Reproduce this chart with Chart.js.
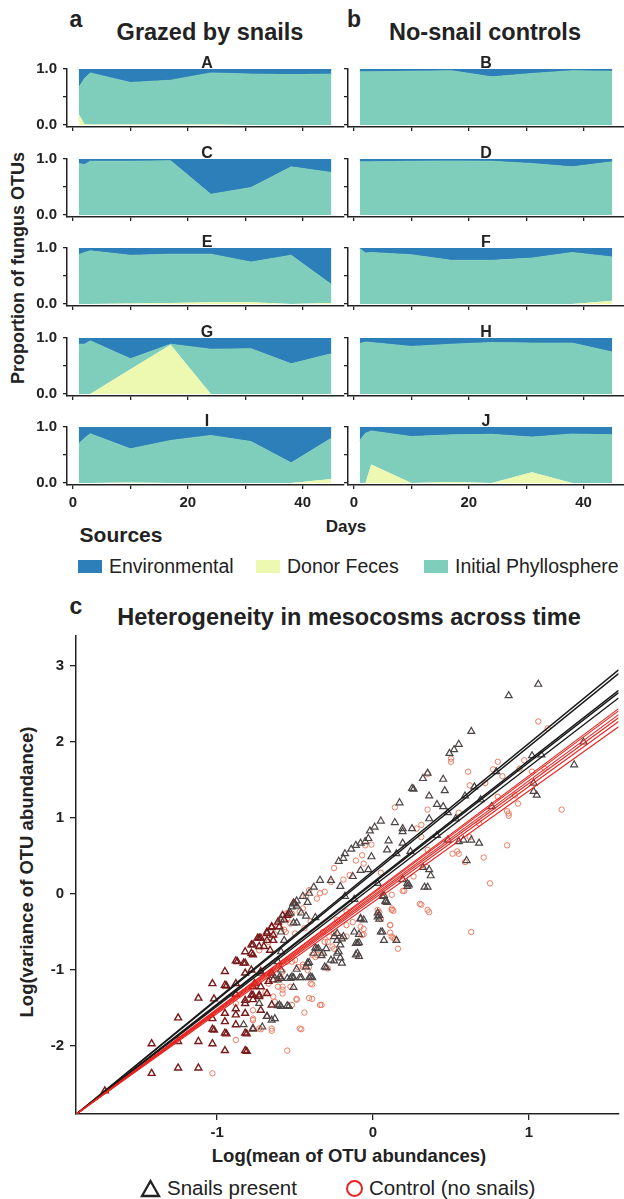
<!DOCTYPE html>
<html lang="en">
<head>
<meta charset="UTF-8">
<title>Fungus OTU sources and heterogeneity</title>
<script src="https://cdn.jsdelivr.net/npm/chart.js"></script>
<style>
  body { margin: 0; background: #fff; }
  #page { position: relative; width: 624px; height: 1199px; overflow: hidden;
          font-family: "Liberation Sans", Arial, Helvetica, sans-serif; color: #222; background: #fff; }
  canvas { position: absolute; }
  .t { position: absolute; transform: translate(-50%, -50%); white-space: nowrap; font-weight: bold; }
  .rot { transform: translate(-50%, -50%) rotate(-90deg); }
  .leg { position: absolute; white-space: nowrap; font-size: 19.5px; display: flex; align-items: center; }
  .sw { display: inline-block; width: 24px; height: 13px; margin-right: 7px; }
</style>
</head>
<body>
<div id="page">
  <div class="t" style="left:76px; top:19px; font-size:23px;">a</div>
  <div class="t" style="left:210px; top:32px; font-size:23.5px;">Grazed by snails</div>
  <div class="t" style="left:354px; top:19px; font-size:23px;">b</div>
  <div class="t" style="left:485px; top:32px; font-size:23.5px;">No-snail controls</div>
  <div class="t rot" style="left:18px; top:268px; font-size:18px;">Proportion of fungus OTUs</div>
  <div class="t" style="left:346px; top:527px; font-size:17px;">Days</div>
  <div class="t" style="left:121px; top:535px; font-size:21px;">Sources</div>
  <div class="leg" style="left:78px; top:555px;"><span class="sw" style="background:#2c7fb8"></span>Environmental</div>
  <div class="leg" style="left:256px; top:555px;"><span class="sw" style="background:#edf8b1"></span>Donor Feces</div>
  <div class="leg" style="left:424px; top:555px;"><span class="sw" style="background:#7fcdbb"></span>Initial Phyllosphere</div>

  <div class="t" style="left:76px; top:606px; font-size:23px;">c</div>
  <div class="t" style="left:349px; top:617px; font-size:23.5px;">Heterogeneity in mesocosms across time</div>
  <div class="t rot" style="left:27px; top:872px; font-size:18.5px;">Log(variance of OTU abundance)</div>
  <div class="t" style="left:349px; top:1156px; font-size:18.5px;">Log(mean of OTU abundances)</div>
  <div class="leg" style="left:140px; top:1176px; font-size:20.5px;">
    <svg width="21" height="19" style="margin-right:6px"><polygon points="10.5,2 19,17 2,17" fill="none" stroke="#222" stroke-width="2.3"/></svg>Snails present</div>
  <div class="leg" style="left:345px; top:1176px; font-size:20.5px;">
    <svg width="19" height="19" style="margin-right:5px"><circle cx="9.5" cy="9.5" r="7.5" fill="none" stroke="#e8231e" stroke-width="2"/></svg>Control (no snails)</div>
</div>

<script>
// ---- panels a/b: proportion of fungus OTUs by source ----
const days = [1, 2, 3, 10, 17, 24, 31, 38, 45];
const dayTicks = [0, 10, 20, 30, 40];
const dayLabels = ['0', '', '20', '', '40'];
const propTicks = [0, 0.5, 1];

const envA    = [0.33, 0.17, 0.07, 0.24, 0.20, 0.07, 0.09, 0.10, 0.09];
const fecesA  = [0.19, 0.02, 0.01, 0.01, 0.01, 0.01, 0.00, 0.00, 0.00];
const phylloA = [0.48, 0.81, 0.92, 0.75, 0.79, 0.92, 0.91, 0.90, 0.91];

const envB    = [0.05, 0.05, 0.05, 0.04, 0.03, 0.14, 0.08, 0.03, 0.04];
const fecesB  = [0, 0, 0, 0, 0, 0, 0, 0, 0];
const phylloB = [0.95, 0.95, 0.95, 0.96, 0.97, 0.86, 0.92, 0.97, 0.96];

const envC    = [0.08, 0.10, 0.04, 0.04, 0.03, 0.63, 0.51, 0.14, 0.24];
const fecesC  = [0, 0, 0, 0, 0, 0, 0, 0, 0];
const phylloC = [0.92, 0.90, 0.96, 0.96, 0.97, 0.37, 0.49, 0.86, 0.76];

const envD    = [0.05, 0.05, 0.05, 0.04, 0.035, 0.04, 0.08, 0.14, 0.05];
const fecesD  = [0, 0, 0, 0, 0, 0, 0, 0, 0];
const phylloD = [0.95, 0.95, 0.95, 0.96, 0.965, 0.96, 0.92, 0.86, 0.95];

const envE    = [0.12, 0.08, 0.05, 0.13, 0.11, 0.11, 0.25, 0.13, 0.65];
const fecesE  = [0, 0, 0, 0.01, 0.02, 0.03, 0.03, 0, 0.02];
const phylloE = [0.88, 0.92, 0.95, 0.86, 0.87, 0.86, 0.72, 0.87, 0.33];

const envF    = [0.01, 0.09, 0.08, 0.12, 0.22, 0.22, 0.18, 0.08, 0.16];
const fecesF  = [0, 0, 0, 0, 0, 0, 0, 0, 0.06];
const phylloF = [0.99, 0.91, 0.92, 0.88, 0.78, 0.78, 0.82, 0.92, 0.78];

const envG    = [0.11, 0.11, 0.05, 0.37, 0.11, 0.20, 0.19, 0.46, 0.28];
const fecesG  = [0, 0, 0, 0.44, 0.88, 0, 0, 0, 0];
const phylloG = [0.89, 0.89, 0.95, 0.19, 0.01, 0.80, 0.81, 0.54, 0.72];

const envH    = [0.10, 0.07, 0.08, 0.15, 0.11, 0.08, 0.09, 0.09, 0.25];
const fecesH  = [0, 0, 0, 0, 0, 0, 0, 0, 0];
const phylloH = [0.90, 0.93, 0.92, 0.85, 0.89, 0.92, 0.91, 0.91, 0.75];

const envI    = [0.30, 0.20, 0.12, 0.39, 0.24, 0.15, 0.26, 0.64, 0.20];
const fecesI  = [0, 0, 0, 0.01, 0, 0, 0, 0, 0.07];
const phylloI = [0.70, 0.80, 0.88, 0.60, 0.76, 0.85, 0.74, 0.36, 0.73];

const envJ    = [0.24, 0.11, 0.07, 0.17, 0.14, 0.13, 0.18, 0.125, 0.14];
const fecesJ  = [0, 0, 0.33, 0, 0.02, 0, 0.19, 0, 0];
const phylloJ = [0.76, 0.89, 0.60, 0.83, 0.84, 0.87, 0.63, 0.875, 0.86];

// ---- panel c: log variance vs log mean ----
const xTicksC = [-1, 0, 1];
const yTicksC = [-2, -1, 0, 1, 2, 3];

const snailsEarly = [
  [-1.72,-2.59],[-1.42,-2.36],[-1.25,-2.29],[-1.12,-2.29],[-1.42,-1.97],[-1.25,-1.94],[-1.12,-1.94],
  [-1.03,-1.97],[-0.95,-2.06],[-0.82,-2.06],[-1.25,-1.63],[-1.12,-1.37],[-1.03,-1.18],[-0.95,-1.02],
  [-0.88,-0.88],[-0.82,-0.76],[-0.77,-0.67],[-0.73,-0.58],[-0.68,-0.50],[-0.65,-0.44],[-0.58,-0.28],
  [-0.51,-0.12],[-1.03,-1.64],[-1.03,-1.78],[-0.95,-1.83],[-0.95,-1.68],[-0.95,-1.57],[-0.88,-1.51],
  [-0.88,-1.59],[-0.88,-1.72],[-0.82,-1.83],[-0.82,-1.57],[-0.82,-1.44],[-0.82,-1.40],[-0.88,-1.18],
  [-0.88,-1.32],[-0.95,-1.20],[-0.82,-1.04],[-0.82,-0.91],[-0.77,-0.80],[-0.73,-0.69],[-0.68,-0.61],
  [-0.64,-0.54],[-0.60,-0.43],[-0.57,-0.34],[-0.54,-0.26],[-0.77,-1.22],[-0.77,-1.33],[-0.73,-1.35],
  [-0.64,-1.13],[-0.59,-1.11],[-1.02,-1.38],[-0.94,-1.21],[-0.94,-1.84],[-0.81,-2.07],[-0.81,-1.84],
  [-0.87,-0.89],[-1.02,-1.79],[-0.83,-0.91],[-0.78,-0.78],[-0.72,-0.58],[-0.61,-0.37],[-0.55,-0.28],
  [-0.65,-0.43],[-0.68,-0.52],[-0.74,-0.58],[-0.64,-0.61],[-0.78,-0.67],[-0.70,-0.69],[-0.66,-0.74],
  [-0.78,-1.00],[-0.72,-1.02],[-0.65,-1.04],[-0.76,-1.18],[-0.72,-1.22],[-0.67,-1.15],[-0.78,-1.33],
  [-0.73,-1.33],[-0.68,-1.31],[-0.77,-1.39],[-0.65,-1.46],[-0.72,-1.53],[-0.68,-1.61],[-0.77,-1.77]
];
const snailsLate = [
  [1.06,2.76],[0.87,2.61],[0.63,2.14],[0.55,1.97],[0.52,1.90],[0.49,1.85],[1.35,2.00],[1.29,1.70],
  [1.02,1.82],[1.08,1.83],[1.03,1.46],[1.03,1.35],[1.05,1.30],[0.79,1.61],[0.45,1.51],[0.32,1.52],
  [0.35,1.59],[0.25,1.39],[0.26,1.38],[0.36,1.29],[0.46,1.36],[0.41,1.18],[0.45,1.15],[0.48,1.07],
  [0.17,1.20],[0.36,0.99],[0.59,1.29],[0.65,1.41],[0.69,1.24],[0.76,1.15],[0.53,0.99],[0.05,0.96],
  [0.14,0.94],[0.19,0.82],[0.19,0.86],[0.25,0.86],[0.10,0.70],[0.19,0.67],[0.09,0.58],[0.15,0.53],
  [0.24,0.56],[0.41,0.77],[0.48,0.71],[0.55,0.69],[0.58,0.71],[0.63,0.71],[0.68,0.67],[0.60,0.44],
  [0.32,0.35],[0.36,0.32],[0.37,0.24],[0.33,0.09],[0.22,0.10],[0.22,0.14],[0.19,0.19],[0.06,-0.03],
  [0.08,-0.09],[0.03,0.14],[0.01,0.88],[-0.02,0.83],[-0.03,0.73],[-0.05,0.69],[-0.08,0.67],[-0.11,0.64],
  [-0.14,0.59],[-0.18,0.53],[-0.19,0.47],[-0.22,0.43],[-0.01,0.49],[-0.08,0.31],[-0.03,0.32],[-0.13,0.23],
  [-0.27,0.18],[-0.21,0.10],[-0.18,-0.03],[-0.12,-0.07],[-0.34,0.18],[-0.38,0.09],[-0.41,0.01],[-0.45,-0.03],
  [-0.49,-0.09],[-0.50,-0.13],[-0.52,-0.17],[-0.51,-0.38],[-0.43,-0.29],[-0.37,-0.31],[-0.08,-0.33],
  [0.03,-0.25],[0.03,-0.30],[0.05,-0.50],[-0.10,-0.65],[-0.10,-0.78],[-0.12,-0.50],[-0.25,-0.56],
  [-0.23,-0.61],[-0.21,-0.67],[-0.23,-0.78],[-0.27,-0.87],[-0.30,-0.72],[-0.36,-0.72],[-0.38,-0.78],
  [-0.42,-0.91],[-0.43,-0.96],[-0.49,-0.99],[-0.59,-1.00],[-0.64,-1.07],[-0.40,-1.09],[-0.31,-0.96],
  [0.07,-0.61],[0.15,-0.61],[0.35,0.09],[0.23,0.12],[0.07,-0.02],[0.09,-0.11],[0.04,-0.33],[-0.06,-0.34],
  [-0.09,-0.53],[-0.09,-0.64],[-0.09,-0.82],[-0.20,-0.59],[-0.23,-0.52],[-0.21,-0.84],[-0.25,-0.88],
  [-0.20,-0.91],[-0.30,-0.97],[-0.35,-0.72],[-0.33,-0.81],[-0.39,-1.10],[-0.41,-0.90],[-0.46,-1.10],
  [-0.51,-1.10],[-0.51,-1.23],[-0.54,-1.48],[-0.59,-1.48],[-0.63,-1.64],[-0.71,-1.75],[-0.72,-1.04],
  [-0.73,-1.44],[-0.68,-1.61],[-0.65,-1.66],[-0.77,-1.78],[-0.83,-1.72],[-0.60,-1.46],[-0.55,-1.47],
  [-0.52,-1.09],[-0.49,-0.16],[-0.42,-0.11],[-0.53,-0.25],[-0.46,-0.25],[-0.59,-0.34],[-0.49,-0.38],
  [-0.59,-0.50],[-0.57,-0.61],[-0.59,-0.76],[-0.61,-0.89],[-0.60,-1.09],[-0.55,-1.11],[-0.47,-1.10],
  [-0.42,-0.91],[-0.41,-1.10],[-0.37,-0.71],[-0.32,-0.78],[-0.22,-0.76],[-0.19,-0.56],[-0.11,-0.65],
  [-0.11,-0.80],[-0.08,-0.32],[0.04,-0.28],[0.06,-0.50],[0.08,-0.10],[-0.61,-1.13],[-0.61,-1.47],
  [-0.53,-1.11]
];
const controls = [
  [1.06,2.27],[1.12,2.18],[1.21,1.11],[0.86,0.64],[0.75,0.14],[0.50,1.74],[0.50,1.78],[0.61,1.61],
  [0.62,1.43],[0.72,1.46],[0.77,1.64],[0.80,1.74],[0.83,1.55],[0.94,1.65],[0.97,1.76],[1.02,1.61],
  [1.10,1.65],[0.91,1.30],[0.93,1.19],[0.86,1.09],[0.87,1.03],[0.87,1.06],[0.35,1.58],[0.35,1.11],
  [0.14,1.14],[0.55,1.07],[0.68,0.93],[0.62,0.75],[0.51,0.53],[0.54,0.56],[0.55,0.53],[0.71,0.48],
  [0.59,0.42],[0.31,0.91],[0.28,0.86],[0.31,0.75],[0.35,0.58],[0.34,0.36],[0.26,0.23],[0.19,0.04],
  [0.12,-0.01],[0.30,-0.13],[0.35,-0.21],[0.12,-0.19],[0.05,0.28],[0.80,1.28],
  [-0.01,0.65],[-0.05,0.64],[-0.07,0.51],[-0.06,0.40],[-0.11,0.44],[-0.15,0.25],[-0.19,0.19],[-0.25,0.34],
  [-0.31,0.03],[-0.36,-0.06],[-0.34,0.01],[-0.41,0.05],[-0.43,-0.03],[-0.45,-0.19],[-0.47,-0.23],
  [-0.52,-0.26],[-0.55,-0.32],[-0.60,-0.37],[-0.61,-0.43],[-0.57,-0.47],[-0.63,-0.53],[-0.67,-0.63],
  [-0.73,-0.74],[-0.17,-0.41],[-0.13,-0.37],[-0.08,-0.43],[-0.07,-0.54],[-0.21,-0.56],[-0.17,-0.56],
  [-0.31,-0.63],[-0.28,-0.56],[-0.33,-0.80],[-0.37,-0.83],[-0.52,-0.89],[-0.45,-0.93],[-0.42,-1.00],
  [-0.29,-0.98],[0.11,-0.41],[0.11,-0.51],[0.12,-0.56],[0.16,-0.72],[0.03,-0.21],
  [-1.03,-2.36],[-0.88,-1.92],[-0.73,-1.77],[-0.65,-1.80],[-0.55,-2.06],[-0.88,-1.44],[-0.77,-1.53],
  [-0.77,-1.66],[-0.64,-1.35],[-0.58,-1.31],[-0.58,-1.22],[-0.52,-1.46],[-0.58,-1.02],[-0.55,-0.89],
  [-0.67,-1.18],[0.63,-0.50],[0.31,-0.14],[0.36,-0.24],[0.13,-0.22],[0.14,-0.59],[0.04,-0.24],
  [0.05,-0.33],[-0.06,-0.46],[-0.06,-0.53],[-0.33,-1.46],[-0.39,-1.38],[-0.39,-1.19],[-0.44,-1.56],
  [-0.49,-1.38],[-0.46,-1.78],[-0.72,-1.78],[-0.41,-0.96],[-0.25,-0.72],[0.20,0.04],[-0.27,0.16],
  [-0.55,-0.25],[-0.53,-0.39],[-0.56,-0.50],[-0.50,-0.52],[-0.44,-0.45],[-0.40,-0.36],[-0.32,-0.50],
  [-0.29,-0.63],[-0.25,-0.52],[-0.26,-0.69],[-0.36,-0.80],[-0.39,-0.80],[-0.50,-0.87],[-0.45,-0.96],
  [-0.40,-1.18],[-0.41,-1.37],[-0.34,-1.46],[-0.49,-1.39],[-0.58,-1.26],[-0.53,-1.22],[-0.63,-1.42],
  [-0.69,-1.29],[-0.75,-1.20],[-0.47,-1.77],[-0.65,-1.77],[-0.77,-1.64],[0.03,-0.28],[0.11,-0.41],
  [0.13,-0.58],[0.12,-0.21],[-0.17,-0.23],[-0.23,-0.34],[-0.48,-0.96],[-0.61,-1.22]
];
// fitted lines, all leaving the lower-left corner
const lineStart = [-1.905, -2.90];
const lineEndX = 1.575;
const snailLineEnds = [2.95, 2.90, 2.68, 2.65, 2.58];
const controlLineEnds = [2.44, 2.41, 2.36, 2.32, 2.27, 2.20];

const FONT = '"Liberation Sans", Arial, Helvetica, sans-serif';
const INK = '#222';
const COL = { env: '#2c7fb8', feces: '#edf8b1', phyllo: '#7fcdbb' };
Chart.defaults.font.family = FONT;

const page = document.getElementById('page');
const rowTops = [69, 159, 248, 338, 427];
const PAD_TOP = 12;

function addCanvas(left, top, w, h) {
  const cv = document.createElement('canvas');
  cv.width = w; cv.height = h;
  cv.style.left = left + 'px'; cv.style.top = top + 'px';
  page.appendChild(cv);
  return cv;
}

function addLabel(text, x, y) {
  const d = document.createElement('div');
  d.className = 't';
  d.style.left = x + 'px'; d.style.top = y + 'px'; d.style.fontSize = '16px';
  d.textContent = text;
  page.appendChild(d);
}

// keep the plot area where it is: no extra room for half tick labels
function noPad(s) { s.paddingTop = 0; s.paddingBottom = 0; s.paddingLeft = 0; s.paddingRight = 0; }

function makePanel(name, env, feces, phyllo, col, row) {
  const last = row === 4;
  const left = col === 0 ? 0 : 330;
  const w = col === 0 ? 346 : 294;
  const h = PAD_TOP + 58 + (last ? 30 : 10);
  const cv = addCanvas(left, rowTops[row] - PAD_TOP, w, h);
  const pts = arr => arr.map((v, i) => ({ x: days[i], y: v }));
  const axisGrid = { drawOnChartArea: false, drawTicks: true, color: INK, lineWidth: 1.3 };
  new Chart(cv, {
    type: 'line',
    data: {
      datasets: [
        { label: 'Donor Feces', data: pts(feces), backgroundColor: COL.feces, borderWidth: 0, fill: 'origin' },
        { label: 'Initial Phyllosphere', data: pts(phyllo), backgroundColor: COL.phyllo, borderColor: COL.phyllo, borderWidth: 0.8, fill: '-1' },
        { label: 'Environmental', data: pts(env), backgroundColor: COL.env, borderColor: COL.env, borderWidth: 0.8, fill: '-1' }
      ]
    },
    options: {
      animation: false, responsive: false,
      layout: { padding: { top: PAD_TOP, right: col === 0 ? 2 : 0, left: 0, bottom: 0 } },
      elements: { point: { radius: 0 }, line: { tension: 0 } },
      plugins: { legend: { display: false }, tooltip: { enabled: false } },
      scales: {
        x: {
          type: 'linear', min: -1.05, max: col === 0 ? 47.2 : 47.05,
          afterBuildTicks: s => { s.ticks = dayTicks.map(v => ({ value: v })); },
          afterFit: s => { s.height = last ? 30 : 10; noPad(s); },
          grid: Object.assign({ tickLength: 4 }, axisGrid),
          border: { display: true, color: INK, width: 1.5 },
          ticks: {
            autoSkip: false, maxRotation: 0, padding: 5, color: INK,
            font: { size: 15, weight: 'bold' },
            callback: (v, i) => last ? dayLabels[i] : ''
          }
        },
        y: {
          stacked: true, min: -0.0357, max: 1,
          afterBuildTicks: s => { s.ticks = propTicks.map(v => ({ value: v })); },
          afterFit: s => { s.width = col === 0 ? 67 : 18; noPad(s); },
          grid: Object.assign({ tickLength: 4 }, axisGrid),
          border: { display: true, color: INK, width: 1.5 },
          ticks: {
            padding: 6, color: INK, font: { size: 15, weight: 'bold' },
            callback: v => (col === 0 && v !== 0.5) ? v.toFixed(1) : ''
          }
        }
      }
    }
  });
  addLabel(name, col === 0 ? 207 : 486, rowTops[row] - 6.5);
}

makePanel('A', envA, fecesA, phylloA, 0, 0);
makePanel('B', envB, fecesB, phylloB, 1, 0);
makePanel('C', envC, fecesC, phylloC, 0, 1);
makePanel('D', envD, fecesD, phylloD, 1, 1);
makePanel('E', envE, fecesE, phylloE, 0, 2);
makePanel('F', envF, fecesF, phylloF, 1, 2);
makePanel('G', envG, fecesG, phylloG, 0, 3);
makePanel('H', envH, fecesH, phylloH, 1, 3);
makePanel('I', envI, fecesI, phylloI, 0, 4);
makePanel('J', envJ, fecesJ, phylloJ, 1, 4);

// ---- scatter ----
const toPts = arr => arr.map(p => ({ x: p[0], y: p[1] }));
const fitLine = (end, color, width) => ({
  data: [{ x: lineStart[0], y: lineStart[1] }, { x: lineEndX, y: end }],
  showLine: true, borderColor: color, borderWidth: width, pointRadius: 0, fill: false, order: 0
});

const cvC = addCanvas(0, 626, 624, 520);
new Chart(cvC, {
  type: 'scatter',
  data: {
    datasets: [
      ...controlLineEnds.map(e => fitLine(e, '#e8231e', 1.1)),
      ...snailLineEnds.map(e => fitLine(e, '#1a1a1a', 1.4)),
      { label: 'Control (no snails)', data: toPts(controls), pointStyle: 'circle', pointRadius: 2.7,
        borderColor: '#ec7b62', backgroundColor: 'rgba(0,0,0,0)', borderWidth: 1, order: 3 },
      { label: 'Snails present', data: toPts(snailsLate), pointStyle: 'triangle', pointRadius: 4,
        borderColor: '#4d4545', backgroundColor: 'rgba(0,0,0,0)', borderWidth: 1.2, order: 2 },
      { label: 'Snails present (early)', data: toPts(snailsEarly), pointStyle: 'triangle', pointRadius: 4,
        borderColor: '#7a1b1b', backgroundColor: 'rgba(0,0,0,0)', borderWidth: 1.4, order: 2 }
    ]
  },
  options: {
    animation: false, responsive: false,
    layout: { padding: { top: 10, right: 0, left: 0, bottom: 0 } },
    plugins: { legend: { display: false }, tooltip: { enabled: false } },
    scales: {
      x: {
        type: 'linear', min: -1.905, max: 1.575,
        afterBuildTicks: s => { s.ticks = xTicksC.map(v => ({ value: v })); },
        afterFit: s => { s.height = 32; noPad(s); },
        grid: { drawOnChartArea: false, tickLength: 6, color: INK, lineWidth: 1.3 },
        border: { display: true, color: INK, width: 1.5 },
        ticks: { autoSkip: false, maxRotation: 0, padding: 4, color: INK,
                 font: { size: 15, weight: 'bold' }, callback: v => String(v) }
      },
      y: {
        type: 'linear', min: -2.895, max: 3.395,
        afterBuildTicks: s => { s.ticks = yTicksC.map(v => ({ value: v })); },
        afterFit: s => { s.width = 76; noPad(s); },
        grid: { drawOnChartArea: false, tickLength: 6, color: INK, lineWidth: 1.3 },
        border: { display: true, color: INK, width: 1.5 },
        ticks: { padding: 6, color: INK, font: { size: 15, weight: 'bold' }, callback: v => String(v) }
      }
    }
  }
});
</script>
</body>
</html>
